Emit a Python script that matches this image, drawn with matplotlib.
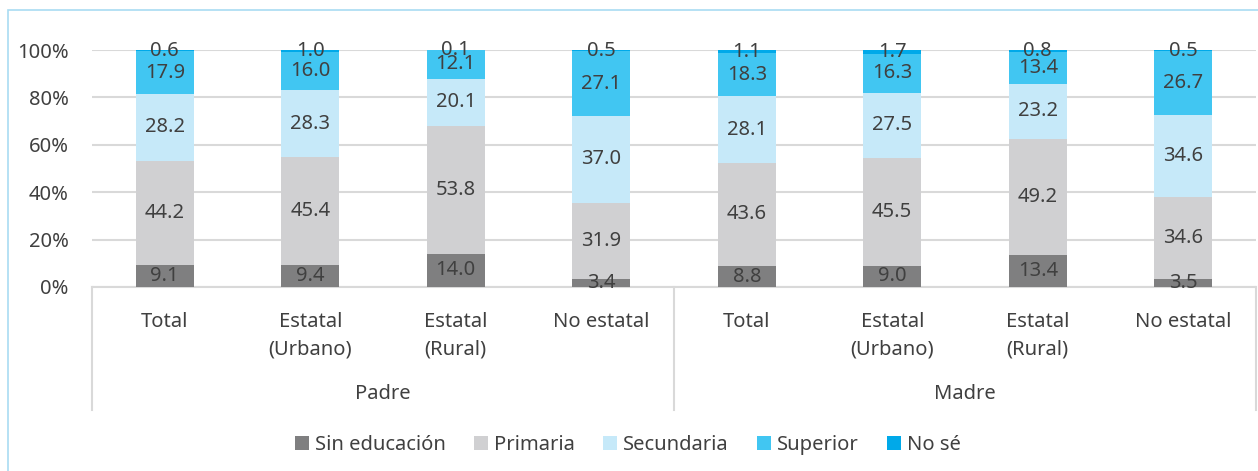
import matplotlib
matplotlib.use("Agg")
import matplotlib.pyplot as plt
from matplotlib.patches import Rectangle
import matplotlib.transforms as mtransforms

categories = ["Total", "Estatal\n(Urbano)", "Estatal\n(Rural)", "No estatal",
              "Total", "Estatal\n(Urbano)", "Estatal\n(Rural)", "No estatal"]
groups = ["Padre", "Madre"]
series_names = ["Sin educación", "Primaria", "Secundaria", "Superior", "No sé"]
sin_educacion = [9.1, 9.4, 14.0, 3.4, 8.8, 9.0, 13.4, 3.5]
primaria = [44.2, 45.4, 53.8, 31.9, 43.6, 45.5, 49.2, 34.6]
secundaria = [28.2, 28.3, 20.1, 37.0, 28.1, 27.5, 23.2, 34.6]
superior = [17.9, 16.0, 12.1, 27.1, 18.3, 16.3, 13.4, 26.7]
no_se = [0.6, 1.0, 0.1, 0.5, 1.1, 1.7, 0.8, 0.5]
yticks = [0, 20, 40, 60, 80, 100]
ytick_labels = ["0%", "20%", "40%", "60%", "80%", "100%"]

colors = ["#7f7f80", "#d0d0d2", "#c6e9f9", "#41c6f2", "#00a9e9"]
text_color = "#404040"
plt.rcParams['font.family'] = ['Noto Sans', 'DejaVu Sans']
FS = 14.5

W, H = 1258, 471
fig = plt.figure(figsize=(W / 100, H / 100), dpi=100)
fig.patch.set_facecolor("white")
# light blue frame
fig.patches.append(Rectangle((8 / W, -0.1), 1.2, 1 - 10 / H + 0.1, transform=fig.transFigure,
                             fill=False, edgecolor="#a9dcf2", lw=1.2))

ax = fig.add_axes([92 / W, 1 - 287 / H, (1256 - 92) / W, (287 - 50) / H])
x = list(range(len(categories)))
data = [sin_educacion, primaria, secundaria, superior, no_se]
bottoms = [0.0] * len(categories)
for name, vals, c in zip(series_names, data, colors):
    ax.bar(x, vals, bottom=bottoms, width=0.4, color=c, label=name, zorder=3)
    for xi, v, b in zip(x, vals, bottoms):
        ax.text(xi, b + v / 2, f"{v:.1f}", ha="center", va="center",
                fontsize=FS, color=text_color, zorder=4)
    bottoms = [b + v for b, v in zip(bottoms, vals)]

ax.set_ylim(0, 100)
ax.set_xlim(-0.5, len(categories) - 0.5)
ax.set_yticks(yticks)
ax.set_yticklabels(ytick_labels, fontsize=FS, color=text_color)
ax.yaxis.grid(True, color="#d9d9d9", lw=1.5, zorder=0)
ax.set_axisbelow(True)
for s in ["top", "right", "left"]:
    ax.spines[s].set_visible(False)
ax.spines["bottom"].set_color("#d9d9d9")
ax.spines["bottom"].set_linewidth(1.5)
ax.tick_params(axis="y", length=0, pad=17)
ax.tick_params(axis="x", length=0)
ax.set_xticks(x)
ax.set_xticklabels(categories, fontsize=FS, color=text_color, va="top", linespacing=1.5)
ax.tick_params(axis="x", pad=18)

trans = mtransforms.blended_transform_factory(ax.transData, ax.transAxes)
ax_h_px = 287 - 50
sep_bottom = -(410 - 287) / ax_h_px
for xs in [-0.5, 3.5, 7.5]:
    ax.plot([xs, xs], [0, sep_bottom], transform=trans, color="#d9d9d9", lw=1.5, clip_on=False)
group_y = -(394 - 287) / ax_h_px
for gi, g in enumerate(groups):
    ax.text(1.5 + gi * 4, group_y, g, transform=trans, ha="center", va="center",
            fontsize=FS, color=text_color)

handles, labels = ax.get_legend_handles_labels()
leg = fig.legend(handles, labels, loc="center", bbox_to_anchor=(628 / W, 1 - 445 / H), ncol=5,
                 frameon=False, fontsize=FS, handlelength=0.7, handleheight=0.7,
                 handletextpad=0.3, columnspacing=1.4)
for t in leg.get_texts():
    t.set_color(text_color)

fig.savefig("out.png", dpi=100)
